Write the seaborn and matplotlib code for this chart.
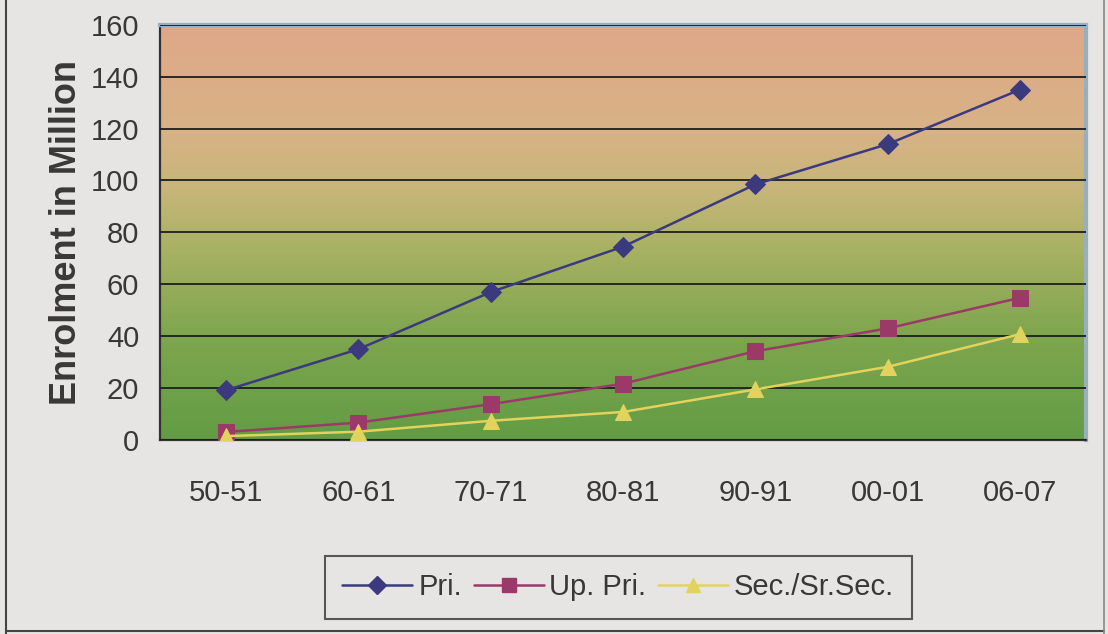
import numpy as np
import pandas as pd
import matplotlib.pyplot as plt
import seaborn as sns
from matplotlib.colors import LinearSegmentedColormap
from matplotlib.lines import Line2D

# Data
years = ['50-51', '60-61', '70-71', '80-81', '90-91', '00-01', '06-07']
pri = [19.2, 35.0, 57.0, 74.5, 98.5, 114.0, 135.0]
up_pri = [3.1, 6.7, 13.8, 21.7, 34.2, 43.0, 54.8]
sec = [1.5, 3.2, 7.4, 10.8, 19.5, 28.2, 40.8]
series_names = ['Pri.', 'Up. Pri.', 'Sec./Sr.Sec.']

df = pd.DataFrame({
    'pos': list(range(len(years))) * 3,
    'value': pri + up_pri + sec,
    'series': np.repeat(series_names, len(years)),
})

colors = {'Pri.': '#3b3a7e', 'Up. Pri.': '#9b3a68', 'Sec./Sr.Sec.': '#e2d35e'}
markers = {'Pri.': 'D', 'Up. Pri.': 's', 'Sec./Sr.Sec.': '^'}
msizes = {'Pri.': 10, 'Up. Pri.': 11, 'Sec./Sr.Sec.': 11}

sns.set_style('white')
plt.rcParams['font.family'] = ['Liberation Sans', 'DejaVu Sans']

bg = '#e7e4e4'
txt = '#383838'
fig = plt.figure(figsize=(11.08, 6.34), dpi=100, facecolor=bg)
ax = fig.add_axes([0.1444, 0.306, 0.836, 0.655])

# gradient background of the plot area
grad = LinearSegmentedColormap.from_list('bg', [
    (0.0, '#629c44'), (0.25, '#7ea64e'), (0.45, '#a6b162'),
    (0.6, '#c6b679'), (0.75, '#d8b286'), (1.0, '#dfa889')])
ax.imshow(np.linspace(0, 1, 256).reshape(-1, 1), cmap=grad, aspect='auto',
          origin='lower', extent=(-0.5, 6.5, 0, 160), zorder=0)

for name in series_names:
    sub = df[df['series'] == name]
    sns.lineplot(data=sub, x='pos', y='value', ax=ax, color=colors[name],
                 marker=markers[name], markersize=msizes[name],
                 markeredgecolor=colors[name], linewidth=1.8, zorder=3,
                 legend=False)

ax.set_xlim(-0.5, 6.5)
ax.set_ylim(0, 160)
ax.set_yticks(range(0, 161, 20))
ax.grid(axis='y', color='#1e1e1e', linewidth=1.3, zorder=1)
ax.set_axisbelow(False)

ax.set_xticks(np.arange(-0.5, 7, 1))
ax.set_xticklabels([])
ax.set_xticks(range(len(years)), minor=True)
ax.set_xticklabels(years, minor=True)
ax.tick_params(axis='x', which='major', direction='out', length=10, width=1.5, color='#333333')
ax.tick_params(axis='x', which='minor', length=0, pad=28, labelsize=21, labelcolor=txt)
ax.tick_params(axis='y', direction='out', length=10, width=1.5, color='#333333',
               labelsize=21, labelcolor=txt, pad=5)

for side in ['left', 'bottom']:
    ax.spines[side].set_color('#333333')
    ax.spines[side].set_linewidth(1.6)
for side in ['top', 'right']:
    ax.spines[side].set_color('#98afbd')
    ax.spines[side].set_linewidth(3)

ax.set_xlabel('')
ax.set_ylabel('Enrolment in Million', fontsize=26, fontweight='bold',
              color=txt, labelpad=5)

handles = [Line2D([0], [0], color=colors[n], marker=markers[n],
                  markersize=msizes[n] - 1, linewidth=1.8) for n in series_names]
leg = fig.legend(handles, series_names, loc='center', bbox_to_anchor=(0.558, 0.074),
                 ncol=3, fontsize=21, frameon=True, fancybox=False,
                 handlelength=2.4, handletextpad=0.2, columnspacing=0.4,
                 borderpad=0.6, labelcolor=txt)
leg.get_frame().set_edgecolor('#333333')
leg.get_frame().set_linewidth(1.5)
leg.get_frame().set_facecolor(bg)

# outer page frame
fig.add_artist(Line2D([0.005, 0.005], [0.0, 1.0], color='#444444', lw=1.5))
fig.add_artist(Line2D([0.005, 0.996], [0.004, 0.004], color='#444444', lw=1.5))
fig.add_artist(Line2D([0.996, 0.996], [0.0, 1.0], color='#888888', lw=1.2))

fig.savefig('out.png', dpi=100, facecolor=bg)
